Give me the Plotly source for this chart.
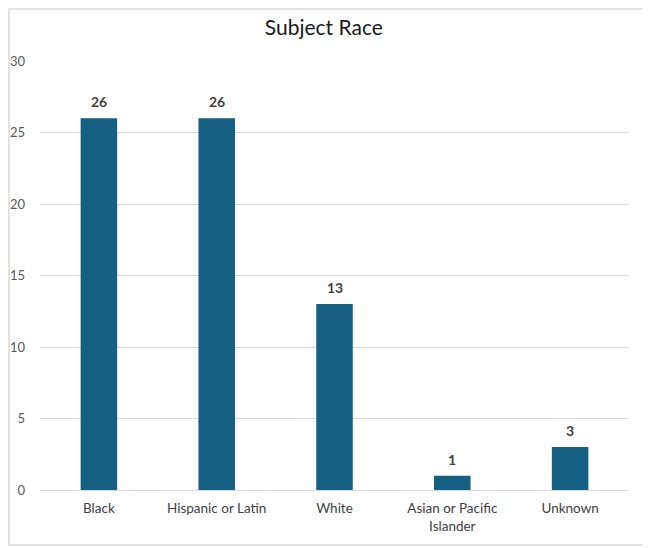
import plotly.graph_objects as go

categories = ["Black", "Hispanic or Latin", "White", "Asian or Pacific<br>Islander", "Unknown"]
counts = [26, 26, 13, 1, 3]
y_ticks = [0, 5, 10, 15, 20, 25, 30]

bar_color = "#156082"
font_name = "Lato"

fig = go.Figure(go.Bar(
    x=categories, y=counts,
    marker=dict(color=bar_color, line=dict(width=0)),
    hoverinfo="x+y",
))

# value labels above the bars
for cat, val in zip(categories, counts):
    fig.add_annotation(x=cat, y=val, text=f"<b>{val}</b>", showarrow=False,
                       yanchor="bottom", yshift=6,
                       font=dict(family=font_name, size=14, color="#404040"))

fig.update_layout(
    width=642, height=540,
    margin=dict(l=32, r=21, t=53, b=58),
    paper_bgcolor="white", plot_bgcolor="white",
    title=dict(text="Subject Race", x=0.492, xanchor="center", y=0.963, yanchor="middle",
               font=dict(family=font_name, size=21, color="#1a1a1a")),
    bargap=0.69,
    showlegend=False,
    font=dict(family=font_name, size=13, color="#404040"),
)
fig.update_xaxes(showline=True, linecolor="#d9d9d9", linewidth=1, ticks="",
                 tickfont=dict(family=font_name, size=13.5, color="#404040"),
                 ticklabelstandoff=6, automargin=False)
fig.update_yaxes(range=[0, 30], tickvals=y_ticks, showgrid=True, gridcolor="#d9d9d9",
                 zeroline=False, ticks="", ticklabelstandoff=14, automargin=False,
                 tickfont=dict(family=font_name, size=13, color="#595959"))

# outer chart border
fig.add_shape(type="rect", xref="paper", yref="paper",
              x0=-0.0526, x1=1.0306, y0=-0.1282, y1=1.1212,
              line=dict(color="#d9d9d9", width=1.5), fillcolor="rgba(0,0,0,0)")

fig.write_html("out.html")
